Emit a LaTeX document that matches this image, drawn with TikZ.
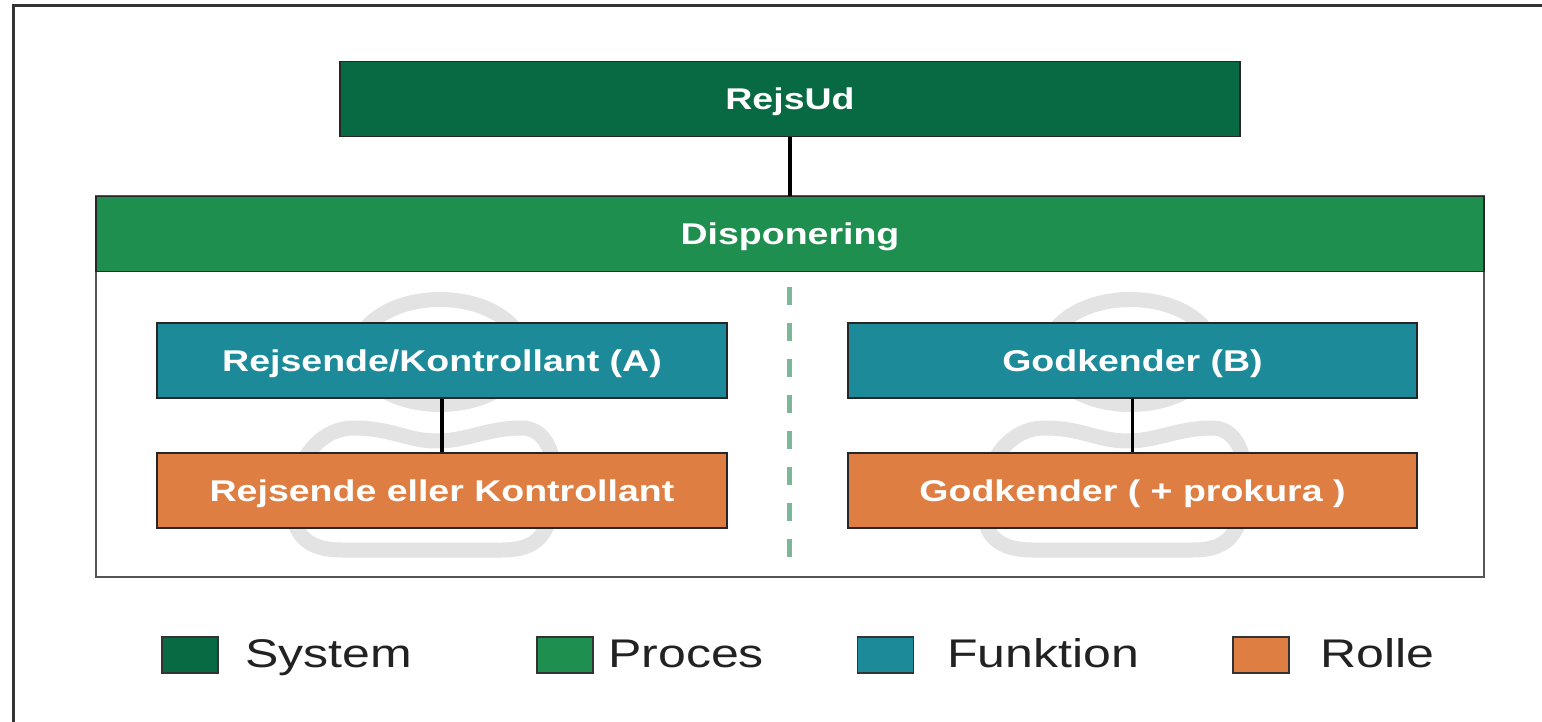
\documentclass[tikz,border=0pt]{standalone}
\usepackage{fontspec}
\setmainfont{Liberation Sans}
\newfontfamily\stretchfont[FakeStretch=1.25]{Liberation Sans}
\newcommand\boxtxt{\stretchfont\bfseries\fontsize{30}{36}\selectfont}
\newcommand\legtxt{\stretchfont\fontsize{40}{48}\selectfont}
\definecolor{sysgreen}{HTML}{086A43}
\definecolor{procgreen}{HTML}{1F8F50}
\definecolor{functeal}{HTML}{1D8A99}
\definecolor{roleorange}{HTML}{DE7E42}
\definecolor{dashgreen}{HTML}{7DB79A}
\definecolor{wmgray}{HTML}{E3E3E3}
\definecolor{framegray}{HTML}{333333}
\definecolor{contgray}{HTML}{555555}
\definecolor{legtext}{HTML}{222222}
\begin{document}
\begin{tikzpicture}[x=1pt,y=-1pt,
  box/.style={draw=black!85, line width=1.5pt, inner sep=0pt, minimum height=75pt,
    text=white, font=\boxtxt, text height=21.5pt, text depth=0pt},
  legbox/.style={draw=black!80, line width=1.5pt, inner sep=0pt, minimum width=56pt, minimum height=36pt},
  legtxtstyle/.style={anchor=base west, inner sep=0pt, text=legtext, font=\legtxt},
  link/.style={draw=black, line width=3.5pt},
  wm/.style={draw=wmgray, line width=15pt},
  dashline/.style={draw=dashgreen, line width=5pt, dash pattern=on 18pt off 18pt}]
\useasboundingbox (0,0) rectangle (1542,722);
\fill[white] (0,0) rectangle (1542,722);
% outer frame
\draw[framegray, line width=2.5pt] (13.5,722) -- (13.5,5.5) -- (1542,5.5);
% container
\node[draw=contgray, line width=2pt, fill=white, inner sep=0pt,
  minimum width=1388pt, minimum height=381pt] (cont) at (790,386.5) {};
% watermarks
\foreach \cx in {442,1132.5}{
  \draw[wm] (\cx-2,352) ellipse [x radius=83pt, y radius=52.5pt];
  \draw[wm] (\cx-5,441) .. controls (\cx+25,441) and (\cx+45,428) .. (\cx+80,428)
    .. controls (\cx+100,428) and (\cx+112,448) .. (\cx+112,475)
    .. controls (\cx+112,530) and (\cx+100,550) .. (\cx+60,550)
    -- (\cx-100,550)
    .. controls (\cx-135,550) and (\cx-149,535) .. (\cx-149,505)
    .. controls (\cx-149,465) and (\cx-125,428) .. (\cx-88,428)
    .. controls (\cx-50,428) and (\cx-35,441) .. (\cx-5,441) -- cycle;
}
% dashed separator
\coordinate (dtop) at (789,287);
\coordinate (dbot) at (789,557);
\draw[dashline] (dtop) -- (dbot);
% boxes
\node[box, fill=sysgreen, minimum width=900pt] (rejsud) at (790,99) {RejsUd};
\node[box, fill=procgreen, minimum width=1388pt] (dispo) at (790,234) {Disponering};
\node[box, fill=functeal, minimum width=570pt] (funcA) at (442,360.5) {Rejsende/Kontrollant (A)};
\node[box, fill=functeal, minimum width=569pt] (funcB) at (1132.5,360.5) {Godkender (B)};
\node[box, fill=roleorange, minimum width=570pt] (roleA) at (442,490.5) {Rejsende eller Kontrollant};
\node[box, fill=roleorange, minimum width=569pt] (roleB) at (1132.5,490.5) {Godkender ( + prokura )};
% connectors
\draw[link] (rejsud.south) -- (dispo.north);
\draw[link] (funcA.south) -- (roleA.north);
\draw[link] (funcB.south) -- (roleB.north);
% legend
\node[legbox, fill=sysgreen] (lsys) at (190,655) {};
\node[legtxtstyle] (tsys) at (245,667) {System};
\node[legbox, fill=procgreen] (lproc) at (565,655) {};
\node[legtxtstyle] (tproc) at (608,667) {Proces};
\node[legbox, fill=functeal] (lfunc) at (885.5,655) {};
\node[legtxtstyle] (tfunc) at (947,667) {Funktion};
\node[legbox, fill=roleorange] (lrole) at (1261,655) {};
\node[legtxtstyle] (trole) at (1320,667) {Rolle};
\end{tikzpicture}
\end{document}
